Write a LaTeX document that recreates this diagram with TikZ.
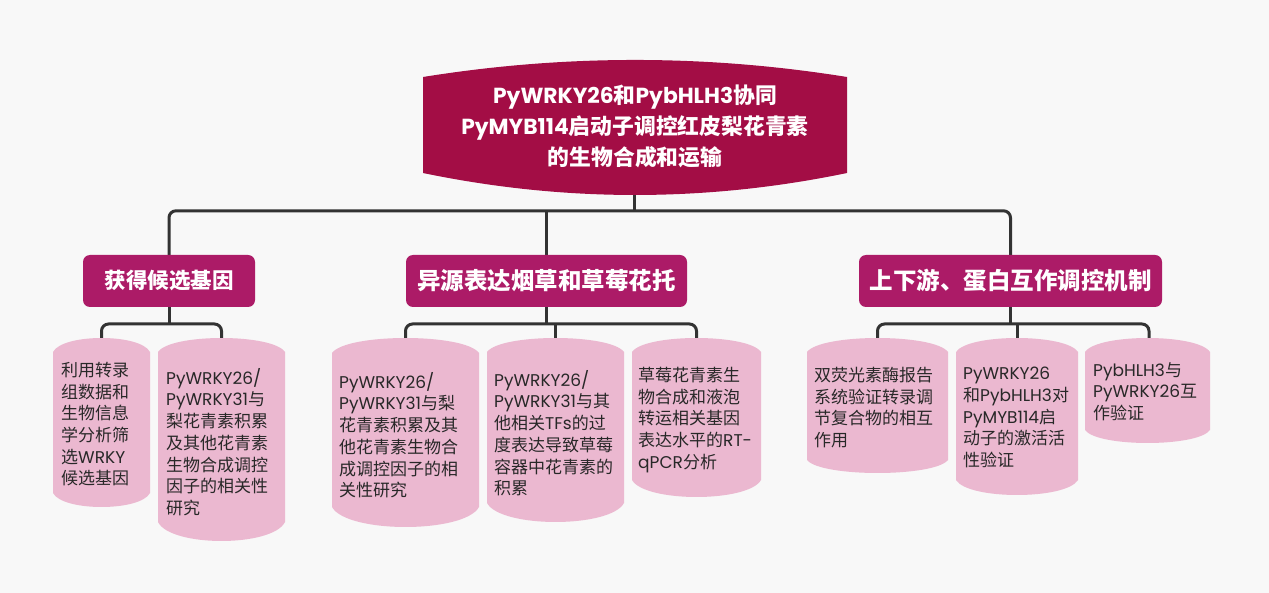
\documentclass[tikz,border=0pt]{standalone}
\usepackage{fontspec}
\setmainfont{Poppins}
\newfontfamily\cjkfam{Noto Sans CJK SC}
\usetikzlibrary{calc}
\makeatletter
\newXeTeXintercharclass\mycjkclass
\def\setcjkrange#1#2{\count@=#1\relax\loop\XeTeXcharclass\count@=\mycjkclass\relax\ifnum\count@<#2\relax\advance\count@ by 1\relax\repeat}
\setcjkrange{"3000}{"303F}
\setcjkrange{"4E00}{"9FFF}
\setcjkrange{"FF00}{"FFEF}
\makeatother
\XeTeXinterchartoks 0 \mycjkclass = {\cjkfam}
\XeTeXinterchartoks 4095 \mycjkclass = {\cjkfam}
\XeTeXinterchartoks \mycjkclass 0 = {\rmfamily}
\XeTeXinterchartoks \mycjkclass 4095 = {\rmfamily}
\XeTeXinterchartokenstate=1
\definecolor{bgc}{RGB}{248,248,248}
\definecolor{titlec}{RGB}{163,13,69}
\definecolor{catc}{RGB}{172,27,103}
\definecolor{leafc}{RGB}{235,184,208}
\definecolor{connc}{RGB}{51,51,51}
\definecolor{leaftxt}{RGB}{40,40,40}
\pgfdeclarelayer{bglayer}
\pgfdeclarelayer{lines}
\pgfsetlayers{bglayer,lines,main}
\newcommand\leafpath[6]{%
 \pgfmathsetmacro\lfw{#2-#1}%
 \pgfmathsetmacro\lfax{#1+0.1*\lfw}\pgfmathsetmacro\lfbx{#2-0.1*\lfw}%
 \pgfmathsetmacro\lfty{#3-1.333*(#3-#4)}%
 \pgfmathsetmacro\lfby{#5+1.333*(#6-#5)}%
 \fill[leaffill] (#1,#5) -- (#1,#3) .. controls (\lfax,\lfty) and (\lfbx,\lfty) .. (#2,#3) -- (#2,#5) .. controls (\lfbx,\lfby) and (\lfax,\lfby) .. cycle;}
\begin{document}
\begin{tikzpicture}[x=1pt,y=-1pt,
  conn/.style={draw=connc, line width=3pt, rounded corners=7pt},
  catbox/.style={fill=catc, rounded corners=7pt, text=white, inner sep=0pt, minimum height=52pt},
  leaftext/.style={anchor=north west, inner sep=0pt, align=left, text=leaftxt, font=\fontsize{17}{21.7}\selectfont},
  leaffill/.style={fill=leafc}]
\begin{pgfonlayer}{bglayer}
\fill[bgc] (0,0) rectangle (1269,593);
\end{pgfonlayer}
\useasboundingbox (0,0) rectangle (1269,593);
% title
\fill[titlec] (423,77) -- (423,173) .. controls (564.3,202.3) and (705.7,202.3) .. (847,173) -- (847,77) .. controls (705.7,54.3) and (564.3,54.3) .. cycle;
\node[text=white, align=center, inner sep=0pt, font=\bfseries\fontsize{21.8}{31}\selectfont] (t) at (635,126) {PyWRKY26和PybHLH3协同\\PyMYB114启动子调控红皮梨花青素\\的生物合成和运输};
\coordinate (tb) at (634,185);
% categories
\node[catbox, minimum width=172pt, font=\bfseries\fontsize{21.5}{26}\selectfont] (c1) at (169,281) {获得候选基因};
\node[catbox, minimum width=281pt, font=\bfseries\fontsize{23.5}{28}\selectfont] (c2) at (546.5,281) {异源表达烟草和草莓花托};
\node[catbox, minimum width=303pt, font=\bfseries\fontsize{23.5}{28}\selectfont] (c3) at (1010.5,281) {上下游、蛋白互作调控机制};
% leaves
\leafpath{53}{150}{352}{338}{493}{507}
\leafpath{158}{285}{352}{338}{522}{541}
\leafpath{332}{479}{353}{338}{507}{527}
\leafpath{487}{624}{352}{338}{503}{522}
\leafpath{632}{761}{352}{338}{480}{497}
\leafpath{807}{948}{352}{338}{460}{473}
\leafpath{956}{1078}{352}{338}{480}{495}
\leafpath{1085}{1210}{352}{338}{430}{443}
\coordinate (p1) at (101.5,342);
\coordinate (p2) at (221.5,342);
\coordinate (p3) at (405.5,342);
\coordinate (p4) at (555.5,342);
\coordinate (p5) at (696.5,342);
\coordinate (p6) at (877.5,342);
\coordinate (p7) at (1017,342);
\coordinate (p8) at (1149,342);
\node[leaftext] (l1) at (61,362) {利用转录\\组数据和\\生物信息\\学分析筛\\选WRKY\\候选基因};
\node[leaftext] (l2) at (166,368) {PyWRKY26/\\PyWRKY31与\\梨花青素积累\\及其他花青素\\生物合成调控\\因子的相关性\\研究};
\node[leaftext] (l3) at (339,372) {PyWRKY26/\\PyWRKY31与梨\\花青素积累及其\\他花青素生物合\\成调控因子的相\\关性研究};
\node[leaftext] (l4) at (494,370) {PyWRKY26/\\PyWRKY31与其\\他相关TFs的过\\度表达导致草莓\\容器中花青素的\\积累};
\node[leaftext] (l5) at (638,367) {草莓花青素生\\物合成和液泡\\转运相关基因\\表达水平的RT-\\qPCR分析};
\node[leaftext] (l6) at (814,367) {双荧光素酶报告\\系统验证转录调\\节复合物的相互\\作用};
\node[leaftext] (l7) at (963,367) {PyWRKY26\\和PybHLH3对\\PyMYB114启\\动子的激活活\\性验证};
\node[leaftext] (l8) at (1093,362) {PybHLH3与\\PyWRKY26互\\作验证};
% connectors
\begin{pgfonlayer}{lines}
\draw[conn] (tb) -- (tb |- 0,211);
\draw[conn] ([yshift=-2pt]c1.north) -- ++(0,-46) -| ([yshift=-2pt]c3.north);
\draw[conn] ([yshift=-2pt]c2.north) -- (c2.north |- 0,211);
\draw[conn] ([yshift=2pt]c1.south) -- (c1.south |- 0,324);
\draw[conn] (p1) -- ++(0,-18) -| (p2);
\draw[conn] ([yshift=2pt]c2.south) -- (c2.south |- 0,324);
\draw[conn] (p3) -- ++(0,-18) -| (p5);
\draw[conn] (p4) -- (p4 |- 0,324);
\draw[conn] ([yshift=2pt]c3.south) -- (c3.south |- 0,324);
\draw[conn] (p6) -- ++(0,-18) -| (p8);
\draw[conn] (p7) -- (p7 |- 0,324);
\end{pgfonlayer}
\end{tikzpicture}
\end{document}
